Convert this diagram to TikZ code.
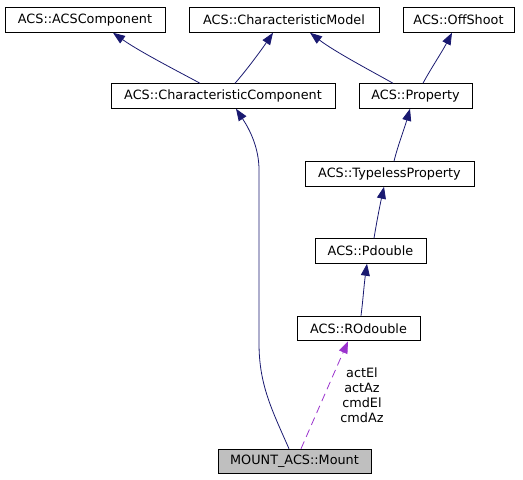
\documentclass[tikz,border=0pt]{standalone}
\usepackage{fontspec}
\setmainfont{DejaVu Sans}
\usetikzlibrary{arrows.meta}
\definecolor{edgeblue}{HTML}{191970}
\definecolor{edgepurple}{HTML}{9A32CD}
\definecolor{boxgray}{HTML}{BFBFBF}
\tikzset{
  cls/.style={draw=black, line width=1pt, fill=white, inner sep=0pt, minimum height=24.5pt,
    font=\fontsize{12.8}{15}\selectfont, text=black},
  inh/.style={draw=edgeblue, line width=0.8pt, -{Triangle[length=12pt,width=9pt,fill=edgeblue]}},
  use/.style={draw=edgepurple, line width=0.8pt, dash pattern=on 8pt off 5pt,
    -{Triangle[length=12pt,width=9pt,fill=edgepurple]}},
  lbl/.style={font=\fontsize{12.8}{15}\selectfont, align=center, inner sep=0pt, text=black}
}
\begin{document}
\begin{tikzpicture}[x=1pt,y=-1pt]
\useasboundingbox (0,0) rectangle (523,480);
\node[cls, minimum width=160pt] (acscomp) at (85,20) {ACS::ACSComponent};
\node[cls, minimum width=190pt] (charmodel) at (284,20) {ACS::CharacteristicModel};
\node[cls, minimum width=111pt] (offshoot) at (458.5,20) {ACS::OffShoot};
\node[cls, minimum width=224pt] (charcomp) at (223,96) {ACS::CharacteristicComponent};
\node[cls, minimum width=113pt] (property) at (415.5,96) {ACS::Property};
\node[cls, minimum width=169pt] (typeless) at (389.5,174) {ACS::TypelessProperty};
\node[cls, minimum width=111pt] (pdouble) at (370.5,251) {ACS::Pdouble};
\node[cls, minimum width=123pt] (rodouble) at (358.5,328.5) {ACS::ROdouble};
\node[cls, minimum width=153pt, fill=boxgray] (mount) at (294.5,461.5) {MOUNT\_ACS::Mount};

\draw[inh] ([xshift=-23pt]charcomp.north) .. controls (185,75) and (140,52) .. ([xshift=28pt]acscomp.south);
\draw[inh] ([xshift=12pt]charcomp.north) .. controls (245,72) and (260,52) .. ([xshift=-11pt]charmodel.south);
\draw[inh] ([xshift=-22.5pt]property.north) .. controls (375,73) and (335,52) .. ([xshift=26pt]charmodel.south);
\draw[inh] ([xshift=7.5pt]property.north) .. controls (430,70) and (442,52) .. ([xshift=-6.5pt]offshoot.south);
\draw[inh] ([xshift=4.5pt]typeless.north) .. controls (398,145) and (404,130) .. ([xshift=-5.5pt]property.south);
\draw[inh] ([xshift=3.5pt]pdouble.north) .. controls (377,220) and (380,205) .. ([xshift=-5.5pt]typeless.south);
\draw[inh] ([xshift=2.5pt]rodouble.north) .. controls (363,300) and (364,285) .. ([xshift=-3.5pt]pdouble.south);
\draw[inh] ([xshift=-5.5pt]mount.north) .. controls (272,410) and (259,385) .. (259,343)
  -- (259,170) .. controls (259,148) and (250,130) .. ([xshift=13pt]charcomp.south);
\draw[use] ([xshift=6.5pt]mount.north) -- ([xshift=-10.5pt]rodouble.south);
\node[lbl] (uselbl) at (362,395) {actEl\\actAz\\cmdEl\\cmdAz};
\end{tikzpicture}
\end{document}
